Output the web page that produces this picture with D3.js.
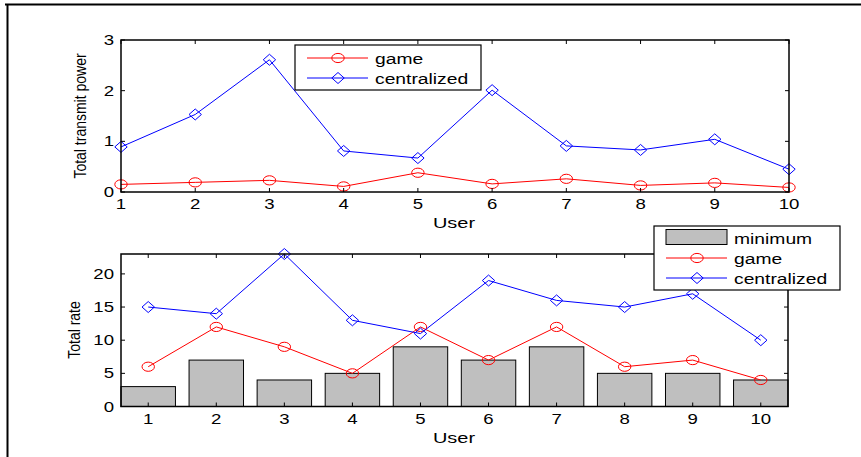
<!DOCTYPE html>
<html>
<head>
<meta charset="utf-8">
<script src="https://cdn.jsdelivr.net/npm/d3@7"></script>
<style>
  body { margin: 0; background: #fff; }
  text { font-family: "Liberation Sans", Arial, sans-serif; fill: #000; }
</style>
</head>
<body>
<div id="chart"></div>
<script>
var users = [1, 2, 3, 4, 5, 6, 7, 8, 9, 10];

// top panel: total transmit power
var powerGame = [0.15, 0.19, 0.23, 0.11, 0.38, 0.16, 0.26, 0.13, 0.18, 0.09];
var powerCentral = [0.89, 1.53, 2.61, 0.81, 0.67, 2.01, 0.91, 0.83, 1.04, 0.45];
var powerTicks = [0, 1, 2, 3];

// bottom panel: total rate
var rateMin = [3, 7, 4, 5, 9, 7, 9, 5, 5, 4];
var rateGame = [6, 12, 9, 5, 12, 7, 12, 6, 7, 4];
var rateCentral = [15, 14, 23, 13, 11, 19, 16, 15, 17, 10];
var rateTicks = [0, 5, 10, 15, 20];

var W = 861, H = 457;
var SX = 1.33; // the picture is stretched sideways
var svg = d3.select("#chart").append("svg")
  .attr("width", W).attr("height", H);

// outer frame (top and left edges only visible)
svg.append("line").attr("x1", 5).attr("x2", W).attr("y1", 4.5).attr("y2", 4.5)
  .attr("stroke", "#000").attr("stroke-width", 2);
svg.append("line").attr("x1", 7.5).attr("x2", 7.5).attr("y1", 4).attr("y2", H)
  .attr("stroke", "#000").attr("stroke-width", 2);

function txt(g, x, y, s, anchor, size) {
  return g.append("text")
    .attr("transform", "translate(" + x + "," + y + ") scale(" + SX + ",1)")
    .attr("text-anchor", anchor || "start")
    .style("font-size", (size || 14) + "px").text(s);
}

function drawAxes(g, x, y, xTicks, yTicks, L, R, T, B) {
  var tl = 4;
  g.append("rect").attr("x", L).attr("y", T).attr("width", R - L).attr("height", B - T)
    .attr("fill", "none").attr("stroke", "#000").attr("stroke-width", 1.5);
  xTicks.forEach(function(t) {
    var px = x(t);
    g.append("line").attr("x1", px).attr("x2", px).attr("y1", B).attr("y2", B - tl).attr("stroke", "#000");
    g.append("line").attr("x1", px).attr("x2", px).attr("y1", T).attr("y2", T + tl).attr("stroke", "#000");
    txt(g, px, B + 17, t, "middle");
  });
  yTicks.forEach(function(t) {
    var py = y(t);
    g.append("line").attr("x1", L).attr("x2", L + tl).attr("y1", py).attr("y2", py).attr("stroke", "#000");
    g.append("line").attr("x1", R).attr("x2", R - tl).attr("y1", py).attr("y2", py).attr("stroke", "#000");
    txt(g, L - 7, py + 5, t, "end");
  });
}

function diamond(g, cx, cy, color) {
  var sx = 6.2, sy = 5.5;
  g.append("path")
    .attr("d", "M" + cx + "," + (cy - sy) + "L" + (cx + sx) + "," + cy + "L" + cx + "," + (cy + sy) + "L" + (cx - sx) + "," + cy + "Z")
    .attr("fill", "none").attr("stroke", color).attr("stroke-width", 1);
}
function circle(g, cx, cy, color) {
  g.append("ellipse").attr("cx", cx).attr("cy", cy).attr("rx", 6.2).attr("ry", 4.6)
    .attr("fill", "none").attr("stroke", color).attr("stroke-width", 1);
}

function drawSeries(g, x, y, vals, color, marker) {
  var line = d3.line().x(function(d, i) { return x(users[i]); }).y(function(d) { return y(d); });
  g.append("path").datum(vals).attr("d", line)
    .attr("fill", "none").attr("stroke", color).attr("stroke-width", 1);
  vals.forEach(function(v, i) { marker(g, x(users[i]), y(v), color); });
}

// ---------- top panel ----------
var L = 121, R = 789;
var top1 = svg.append("g");
var x1 = d3.scaleLinear().domain([1, 10]).range([L, R]);
var y1 = d3.scaleLinear().domain([0, 3]).range([192, 40]);
drawSeries(top1, x1, y1, powerGame, "#ff0000", circle);
drawSeries(top1, x1, y1, powerCentral, "#0000ff", diamond);
drawAxes(top1, x1, y1, users, powerTicks, L, R, 40, 192);
txt(top1, 454, 228, "User", "middle", 15);
top1.append("text").attr("transform", "translate(86,116) rotate(-90) scale(1,1.15)")
  .attr("text-anchor", "middle").style("font-size", "14px").text("Total transmit power");

// legend top
var lg1 = top1.append("g");
lg1.append("rect").attr("x", 295).attr("y", 45).attr("width", 186).attr("height", 45)
  .attr("fill", "#fff").attr("stroke", "#000").attr("stroke-width", 1.2);
[["game", "#ff0000", circle, 58], ["centralized", "#0000ff", diamond, 78]].forEach(function(e) {
  lg1.append("line").attr("x1", 307).attr("x2", 368).attr("y1", e[3]).attr("y2", e[3])
    .attr("stroke", e[1]).attr("stroke-width", 1);
  e[2](lg1, 338, e[3], e[1]);
  txt(lg1, 375, e[3] + 6, e[0], "start", 14.5);
});

// ---------- bottom panel ----------
var bot = svg.append("g");
var x2 = d3.scaleLinear().domain([0.6, 10.4]).range([L, 788]);
var y2 = d3.scaleLinear().domain([0, 23]).range([406.5, 254]);
var bw = x2(1.4) - x2(0.6);
bot.selectAll("rect.bar").data(rateMin).enter().append("rect")
  .attr("class", "bar")
  .attr("x", function(d, i) { return x2(users[i]) - bw / 2; })
  .attr("y", function(d) { return y2(d); })
  .attr("width", bw)
  .attr("height", function(d) { return y2(0) - y2(d); })
  .attr("fill", "#bfbfbf").attr("stroke", "#000").attr("stroke-width", 1);
drawSeries(bot, x2, y2, rateGame, "#ff0000", circle);
drawSeries(bot, x2, y2, rateCentral, "#0000ff", diamond);
drawAxes(bot, x2, y2, users, rateTicks, L, 788, 254, 406.5);
txt(bot, 454, 443, "User", "middle", 15);
bot.append("text").attr("transform", "translate(80,330) rotate(-90) scale(1,1.15)")
  .attr("text-anchor", "middle").style("font-size", "14px").text("Total rate");

// legend bottom
var lg2 = bot.append("g");
lg2.append("rect").attr("x", 654).attr("y", 226).attr("width", 186).attr("height", 64)
  .attr("fill", "#fff").attr("stroke", "#000").attr("stroke-width", 1.2);
lg2.append("rect").attr("x", 666).attr("y", 229.5).attr("width", 61).attr("height", 15)
  .attr("fill", "#bfbfbf").attr("stroke", "#000").attr("stroke-width", 1);
txt(lg2, 734, 244, "minimum", "start", 14.5);
[["game", "#ff0000", circle, 258], ["centralized", "#0000ff", diamond, 278]].forEach(function(e) {
  lg2.append("line").attr("x1", 666).attr("x2", 727).attr("y1", e[3]).attr("y2", e[3])
    .attr("stroke", e[1]).attr("stroke-width", 1);
  e[2](lg2, 697, e[3], e[1]);
  txt(lg2, 734, e[3] + 6, e[0], "start", 14.5);
});
</script>
</body>
</html>
